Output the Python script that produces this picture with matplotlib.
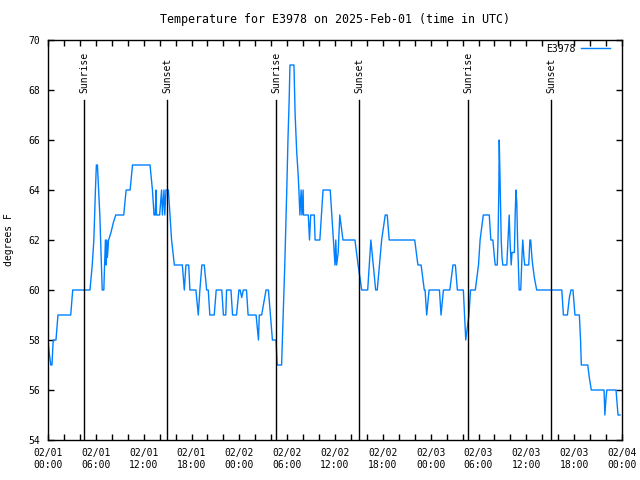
import numpy as np
import matplotlib
matplotlib.use("Agg")
import matplotlib.pyplot as plt
import matplotlib.dates as mdates
import matplotlib.transforms as mtransforms

# hours since 2025-02-01 00:00 UTC, temperature in F
hours = [0, 0.15, 0.35, 0.5, 0.65, 1.0, 1.25, 2.85, 3.1, 5.27, 5.55, 5.75, 5.85, 5.95, 6.06, 6.2,
         6.35, 6.5, 6.6, 6.7, 6.8, 7.0, 7.2, 7.3, 7.35, 7.45, 7.6, 7.9, 8.2, 8.5, 9.5, 9.8, 10.3,
         10.6, 12.8, 13.1, 13.3, 13.45, 13.55, 13.62, 14.0, 14.25, 14.35, 14.55, 14.65, 14.8,
         15.1, 15.3, 15.5, 15.85, 16.85, 17.1, 17.3, 17.65, 17.8, 18.55, 18.85, 19.05, 19.3,
         19.6, 19.9, 20.1, 20.3, 20.85, 21.1, 21.8, 22.0, 22.3, 22.4, 22.95, 23.15, 23.65, 23.95,
         24.1, 24.3, 24.5, 24.9, 25.1, 26.1, 26.4, 26.5, 26.8, 27.35, 27.65, 28.15, 28.6, 28.75,
         29.3, 29.5, 29.7, 29.95, 30.1, 30.25, 30.35, 30.85, 31.0, 31.2, 31.4, 31.5, 31.6, 31.75,
         31.85, 32.0, 32.05, 32.65, 32.8, 32.95, 33.4, 33.5, 34.1, 34.3, 34.5, 35.4, 35.6, 35.8,
         36.0, 36.1, 36.2, 36.4, 36.6, 36.8, 37.0, 38.5, 38.9, 39.35, 40.1, 40.5, 41.1, 41.3,
         41.85, 42.3, 42.55, 42.8, 46.0, 46.4, 46.8, 47.2, 47.3, 47.5, 47.8, 49.1, 49.3, 49.6,
         50.4, 50.8, 51.1, 51.35, 52.1, 52.4, 52.6, 52.8, 53.0, 53.2, 53.6, 54.0, 54.2, 54.6,
         55.35, 55.55, 55.8, 56.0, 56.1, 56.35, 56.45, 56.55, 56.6, 56.7, 56.85, 56.95, 57.05,
         57.55, 57.7, 57.85, 57.95, 58.1, 58.2, 58.5, 58.6, 58.7, 58.8, 58.9, 59.0, 59.1, 59.3,
         59.45, 59.55, 59.7, 59.8, 60.3, 60.45, 60.55, 60.7, 60.8, 61.0, 61.3, 64.45, 64.65,
         65.15, 65.4, 65.6, 65.85, 66.1, 66.65, 66.8, 66.9, 67.7, 67.9, 68.15, 69.75, 69.85,
         70.0, 70.1, 71.25, 71.5, 71.75]
temps = [58, 57.5, 57, 57, 58, 58, 59, 59, 60, 60, 61, 62, 63, 64, 65, 65,
         64, 63, 62, 61, 60, 60, 62, 61, 62, 61.3, 62, 62.3, 62.7, 63, 63, 64, 64,
         65, 65, 64, 63, 63, 64, 63, 63, 64, 63, 64, 63, 64,
         64, 63, 62, 61, 61, 60, 61, 61, 60, 60, 59, 60, 61,
         61, 60, 60, 59, 59, 60, 60, 59, 59, 60, 60, 59, 59, 60,
         60, 59.7, 60, 60, 59, 59, 58, 59, 59, 60, 60, 58, 58, 57,
         57, 59, 61, 64, 66, 67.6, 69, 69, 67, 65.5, 64.5, 63.7, 63, 64,
         63, 64, 63, 63, 62, 63, 63, 62, 62, 63, 64, 64, 63, 62,
         61, 62, 61, 61.5, 63, 62.5, 62, 62, 61, 60, 60, 62, 60, 60,
         62, 63, 63, 62, 62, 61, 61, 60, 60, 59, 60, 60, 59, 60,
         60, 61, 61, 60, 60, 58, 58.5, 59, 60, 60, 60, 61, 62, 63,
         63, 62, 62, 61.3, 61, 61, 62, 64, 66, 64.5, 62, 61.3, 61,
         61, 62, 63, 62, 61, 61.5, 61.5, 63, 64, 63.5, 62, 61, 60, 60,
         61.3, 62, 61.3, 61, 61, 62, 62, 61.3, 61, 60.5, 60, 60, 59,
         59, 59.7, 60, 60, 59, 59, 58, 57, 57, 56.5, 56, 56, 55,
         55.7, 56, 56, 55, 55]

sun_times = ["2025-02-01T04:31", "2025-02-01T14:56", "2025-02-02T04:36",
             "2025-02-02T15:01", "2025-02-03T04:41", "2025-02-03T15:06"]
sun_labels = ["Sunrise", "Sunset", "Sunrise", "Sunset", "Sunrise", "Sunset"]

start = np.datetime64("2025-02-01T00:00")
times = start + np.round(np.array(hours) * 60).astype("timedelta64[m]")

plt.rcParams["font.family"] = "DejaVu Sans Mono"
plt.rcParams["font.size"] = 7

fig = plt.figure(figsize=(6.4, 4.8), dpi=100)
ax = fig.add_axes([48 / 640, 40 / 480, 574 / 640, 400 / 480])

ax.plot(times, temps, color="#0080ff", lw=1.0, label="E3978")

trans = mtransforms.blended_transform_factory(ax.transData, ax.transAxes)
for t, lab in zip(sun_times, sun_labels):
    t = np.datetime64(t)
    ax.axvline(t, ymin=0, ymax=0.85, color="black", lw=1.0)
    ax.text(t, 0.868, lab, rotation=90, ha="center", va="bottom", transform=trans)

ax.set_xlim(np.datetime64("2025-02-01T00:00"), np.datetime64("2025-02-04T00:00"))
ax.set_ylim(54, 70)
ax.set_yticks(np.arange(54, 71, 2))
ax.xaxis.set_major_locator(mdates.HourLocator(byhour=[0, 6, 12, 18]))
ax.xaxis.set_minor_locator(mdates.HourLocator(interval=2))
ax.xaxis.set_major_formatter(mdates.DateFormatter("%m/%d\n%H:%M"))
ax.tick_params(which="both", direction="in", top=True, right=True, length=4, width=1, pad=6)
for s in ax.spines.values():
    s.set_linewidth(1.0)

ax.set_ylabel("degrees F", labelpad=10)
ax.set_title("Temperature for E3978 on 2025-Feb-01 (time in UTC)", pad=12)
ax.legend(loc="upper right", bbox_to_anchor=(0.986, 1.0), frameon=False, markerfirst=False,
          handlelength=3, borderaxespad=0, handletextpad=0.6)

fig.savefig("out.png", dpi=100)
